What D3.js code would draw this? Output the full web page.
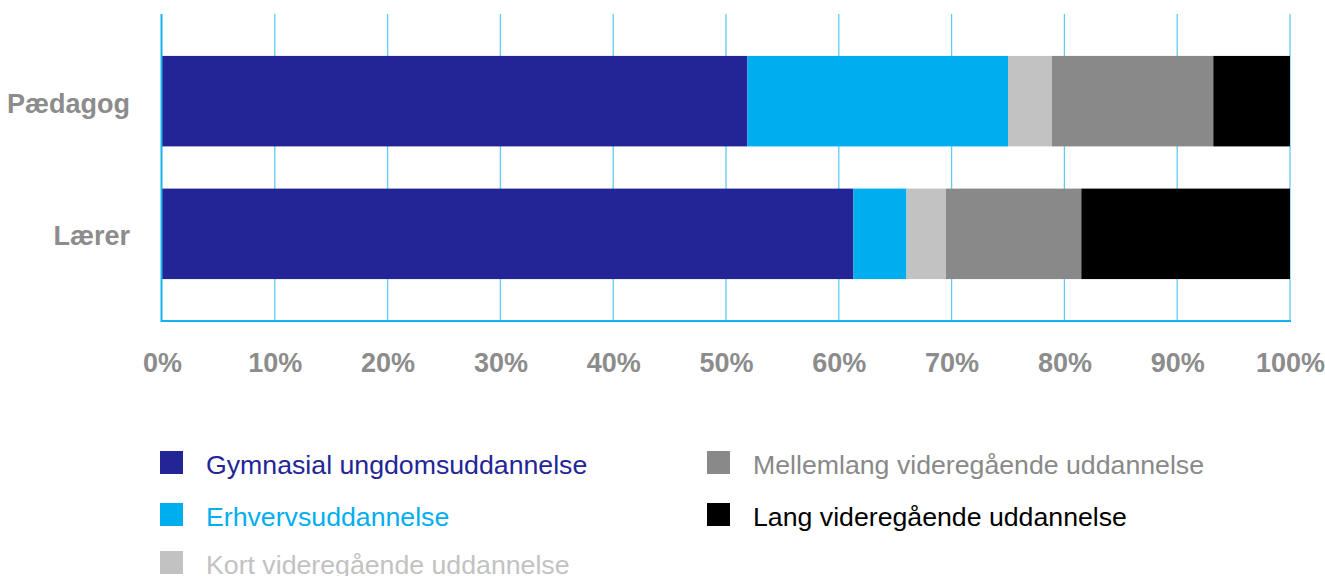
<!DOCTYPE html>
<html><head><meta charset="utf-8">
<script src="https://cdn.jsdelivr.net/npm/d3@7"></script>
<style>body{margin:0;background:#fff}svg{display:block}</style>
</head><body>
<svg id="c" width="1325" height="576"></svg>
<script>
const categories = ["Pædagog", "Lærer"];
const seriesNames = ["Gymnasial ungdomsuddannelse", "Erhvervsuddannelse", "Kort videregående uddannelse", "Mellemlang videregående uddannelse", "Lang videregående uddannelse"];
const gymnasial = [51.9, 61.3];
const erhverv = [23.1, 4.7];
const kort = [3.9, 3.5];
const mellemlang = [14.3, 12.0];
const lang = [6.8, 18.5];
const tickValues = [0, 10, 20, 30, 40, 50, 60, 70, 80, 90, 100];
const colors = ["#232597", "#00aeef", "#c2c2c2", "#898989", "#000000"];

const seriesValues = [gymnasial, erhverv, kort, mellemlang, lang];
const rows = categories.map((c, i) => {
  const o = {cat: c};
  seriesNames.forEach((s, j) => o[s] = seriesValues[j][i]);
  return o;
});
const stack = d3.stack().keys(seriesNames)(rows);

const svg = d3.select("#c");
const x = d3.scaleLinear().domain([0, 100]).range([162, 1290]);
const y = d3.scaleBand().domain(categories).range([14, 321]).paddingInner(0.318).paddingOuter(0.316);

// gridlines
svg.append("g").selectAll("line").data(tickValues.slice(1)).join("line")
  .attr("x1", d => x(d)).attr("x2", d => x(d)).attr("y1", 14).attr("y2", 321)
  .attr("stroke", "#5fcdf5").attr("stroke-width", 1.3);

// bars
svg.append("g").selectAll("g").data(stack).join("g")
  .attr("fill", (d, i) => colors[i])
  .selectAll("rect").data(d => d).join("rect")
  .attr("x", d => x(d[0])).attr("width", d => x(d[1]) - x(d[0]))
  .attr("y", d => y(d.data.cat)).attr("height", y.bandwidth());

// axes lines
svg.append("line").attr("x1", 161.5).attr("x2", 161.5).attr("y1", 14).attr("y2", 322)
  .attr("stroke", "#14b4ee").attr("stroke-width", 2);
svg.append("line").attr("x1", 161).attr("x2", 1291).attr("y1", 321).attr("y2", 321)
  .attr("stroke", "#14b4ee").attr("stroke-width", 2);

// x tick labels
const xAxis = d3.axisBottom(x).tickValues(tickValues).tickFormat(d => d + "%").tickSize(0).tickPadding(0);
const gx = svg.append("g").attr("transform", "translate(0,372)").call(xAxis);
gx.select(".domain").remove();
gx.selectAll("text").attr("dy", 0).attr("font-family", "Liberation Sans, Arial, sans-serif")
  .attr("font-weight", "bold").attr("font-size", 27).attr("fill", "#8c8c8c");

// y labels
const yAxis = d3.axisLeft(y).tickSize(0).tickPadding(0);
const gy = svg.append("g").attr("transform", "translate(130,0)").call(yAxis);
gy.select(".domain").remove();
gy.selectAll("text").attr("dy", "0.43em").attr("font-family", "Liberation Sans, Arial, sans-serif")
  .attr("font-weight", "bold").attr("font-size", 27).attr("fill", "#8c8c8c");

// legend
const legPos = [[160, 451], [160, 503], [160, 551], [707, 451], [707, 503]];
const lg = svg.append("g").selectAll("g").data(seriesNames).join("g")
  .attr("transform", (d, i) => `translate(${legPos[i][0]},${legPos[i][1]})`);
lg.append("rect").attr("width", 23).attr("height", 23).attr("fill", (d, i) => colors[i]);
lg.append("text").attr("x", 46).attr("y", 22.5).text(d => d)
  .attr("font-family", "Liberation Sans, Arial, sans-serif").attr("font-size", 26.7)
  .attr("fill", (d, i) => colors[i]);
</script>
</body></html>
